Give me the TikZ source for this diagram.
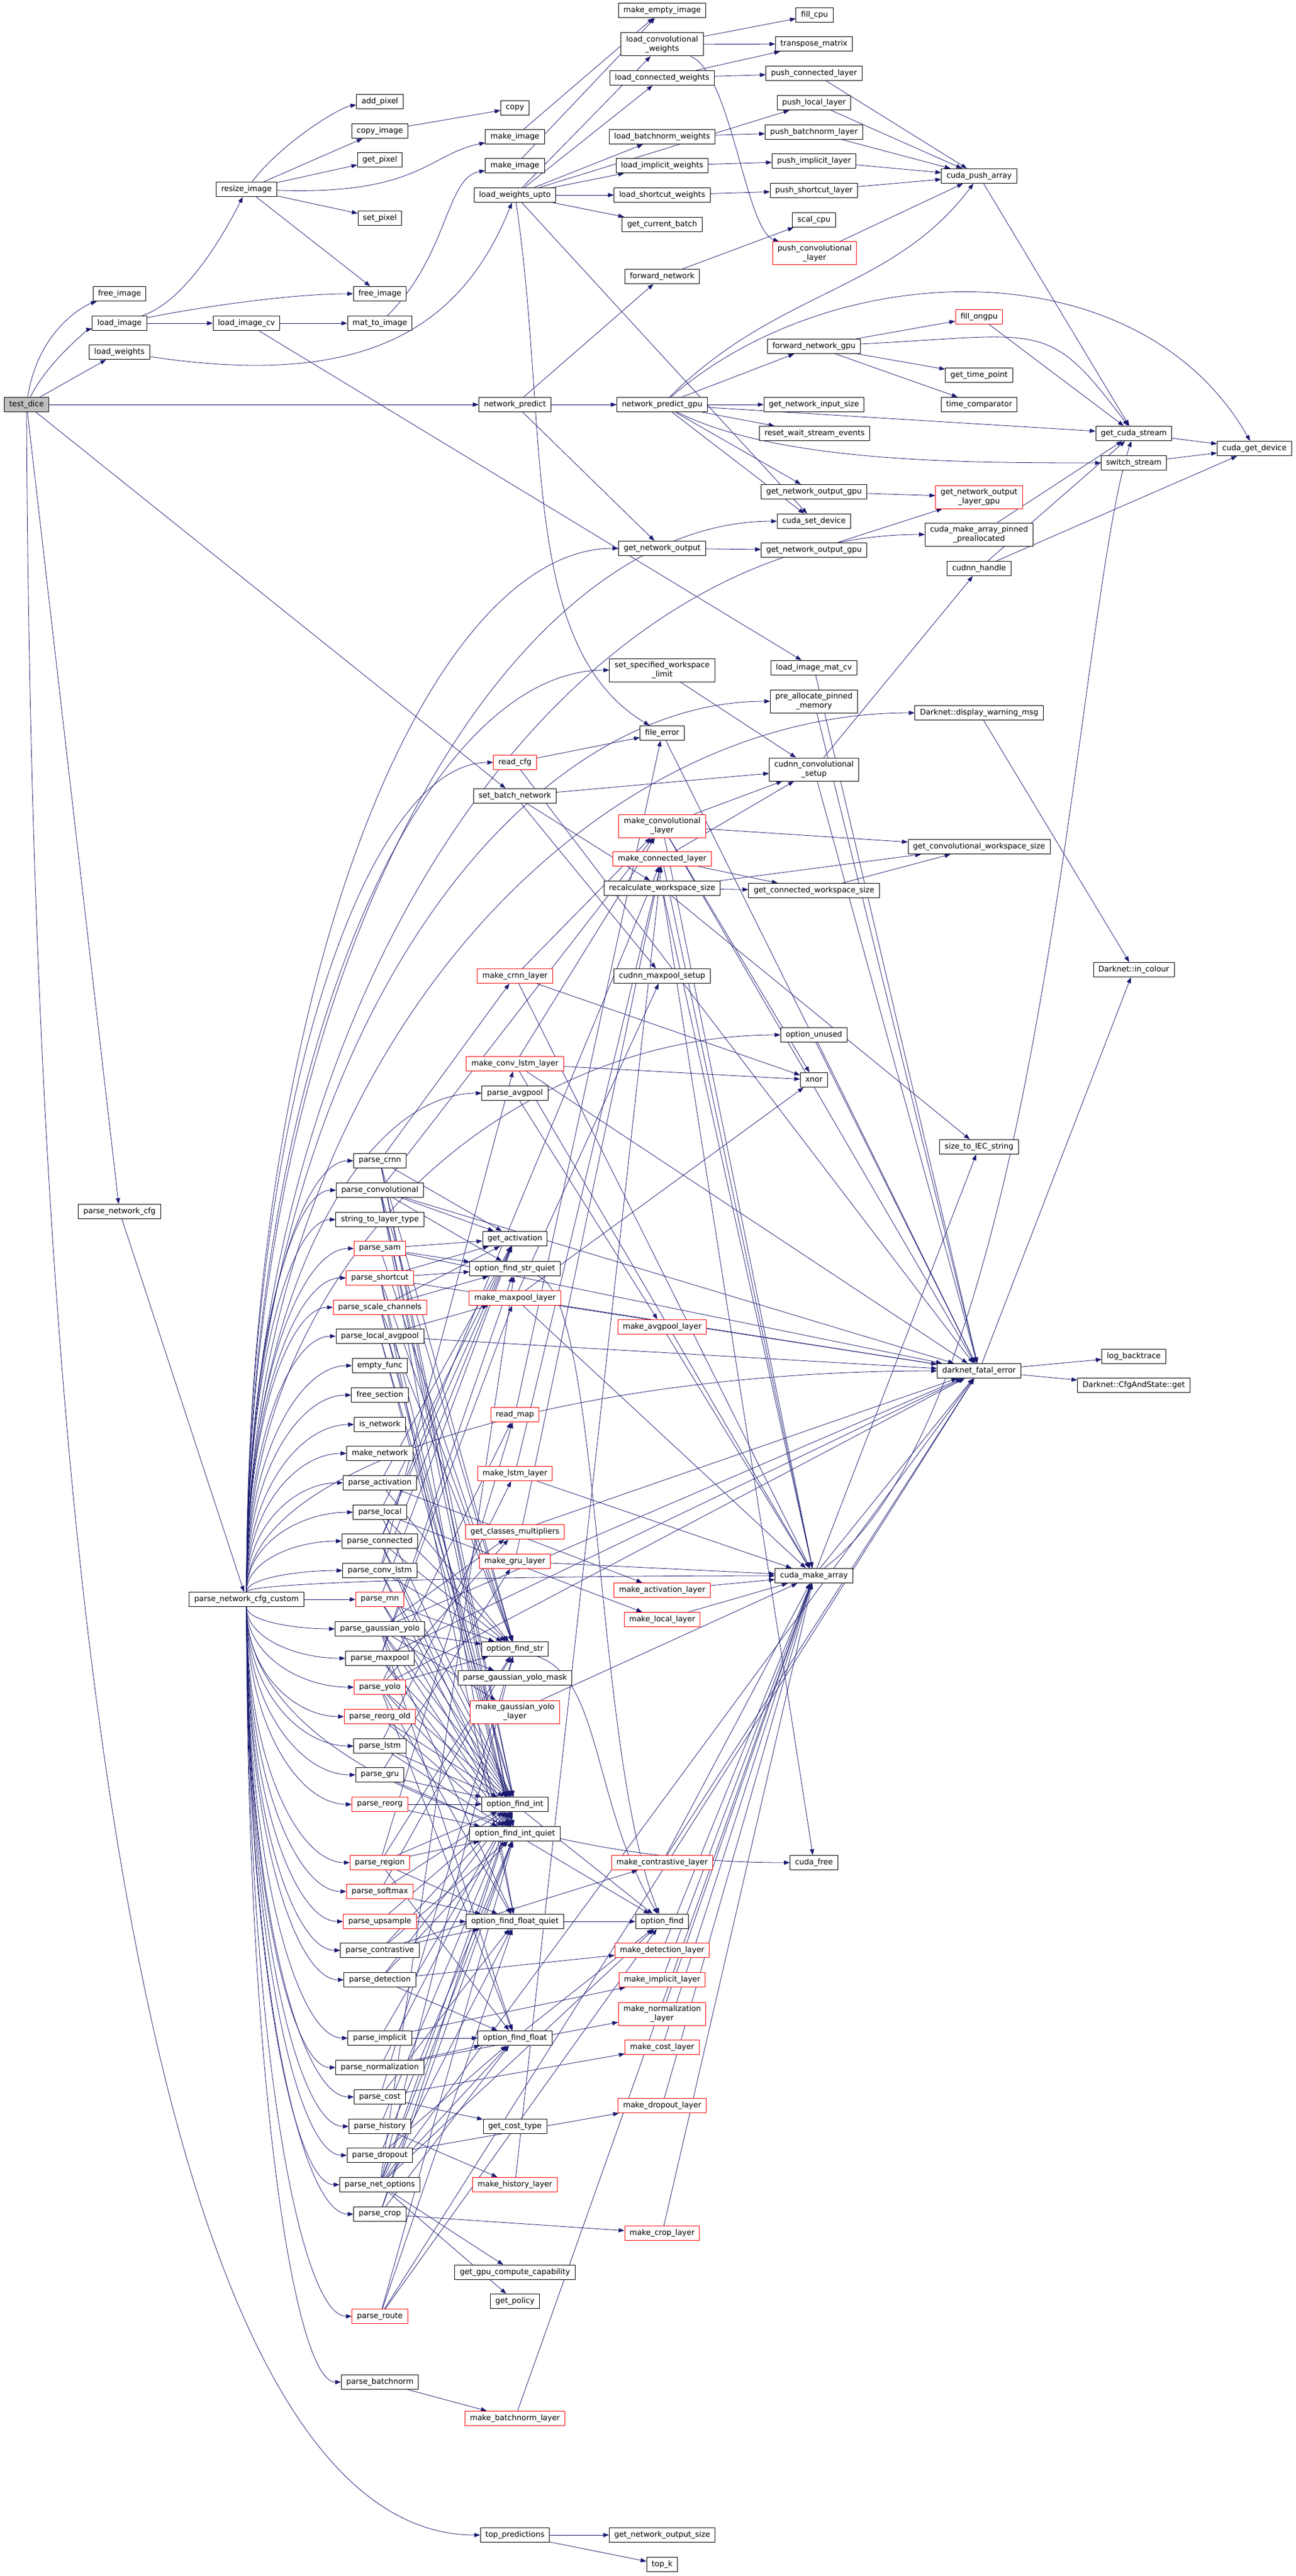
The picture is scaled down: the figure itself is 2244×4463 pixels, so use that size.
\documentclass[tikz,border=0pt]{standalone}
\usepackage{fontspec}
\setmainfont{DejaVu Sans}
\usetikzlibrary{arrows.meta,calc}
\definecolor{callblue}{HTML}{191970}
\pgfdeclarelayer{bg}
\pgfsetlayers{bg,main}

\begin{document}
\begin{tikzpicture}[x=0.75pt,y=-0.75pt,>={Triangle[length=7.5pt,width=5.5pt]},
  fnbox/.style={rectangle,draw=black,fill=white,line width=0.75pt,align=center,
    font=\fontsize{10}{11.5}\selectfont,inner xsep=6.5pt,inner ysep=1pt,minimum height=19pt},
  cutbox/.style={fnbox,draw=red},
  twoline/.style={minimum height=30pt},
  call/.style={->,draw=callblue,line width=0.6pt}]

  \useasboundingbox (0,0) rectangle (2244,4463);

  % first columns
  \node[fnbox,fill=black!25] (td) at (46,701) {test\_dice};
  \node[fnbox] (fiA) at (207,509) {free\_image};
  \node[fnbox] (li) at (207,560) {load\_image};
  \node[fnbox] (lw) at (207,610) {load\_weights};
  \node[fnbox] (pnc) at (207,2099) {parse\_network\_cfg};
  \node[fnbox] (ri) at (427,328) {resize\_image};
  \node[fnbox] (licv) at (427,560) {load\_image\_cv};
  \node[fnbox] (pncc) at (427,2771) {parse\_network\_cfg\_custom};

  % column of parse functions
  \node[fnbox] (addp) at (658,176) {add\_pixel};
  \node[fnbox] (cpi) at (658,227) {copy\_image};
  \node[fnbox] (gp) at (658,277) {get\_pixel};
  \node[fnbox] (sp) at (658,378) {set\_pixel};
  \node[fnbox] (fiB) at (658,509) {free\_image};
  \node[fnbox] (mti) at (658,560) {mat\_to\_image};
  \node[fnbox] (pcrnn) at (658,2011) {parse\_crnn};
  \node[fnbox] (pconv) at (658,2062) {parse\_convolutional};
  \node[fnbox] (s2lt) at (658,2113) {string\_to\_layer\_type};
  \node[cutbox] (psam) at (658,2163) {parse\_sam};
  \node[cutbox] (pshort) at (658,2214) {parse\_shortcut};
  \node[cutbox] (pscale) at (658,2265) {parse\_scale\_channels};
  \node[fnbox] (plavg) at (658,2315) {parse\_local\_avgpool};
  \node[fnbox] (efunc) at (658,2366) {empty\_func};
  \node[fnbox] (fsec) at (658,2417) {free\_section};
  \node[fnbox] (isnet) at (658,2468) {is\_network};
  \node[fnbox] (mknet) at (658,2518) {make\_network};
  \node[fnbox] (pact) at (658,2569) {parse\_activation};
  \node[fnbox] (ploc) at (658,2620) {parse\_local};
  \node[fnbox] (pconn) at (658,2670) {parse\_connected};
  \node[fnbox] (pclstm) at (658,2721) {parse\_conv\_lstm};
  \node[cutbox] (prnn) at (658,2771) {parse\_rnn};
  \node[fnbox] (pgy) at (658,2822) {parse\_gaussian\_yolo};
  \node[fnbox] (pmax) at (658,2873) {parse\_maxpool};
  \node[cutbox] (pyolo) at (658,2923) {parse\_yolo};
  \node[cutbox] (preo) at (658,2974) {parse\_reorg\_old};
  \node[fnbox] (plstm) at (658,3025) {parse\_lstm};
  \node[fnbox] (pgru) at (658,3075) {parse\_gru};
  \node[cutbox] (preorg) at (658,3126) {parse\_reorg};
  \node[cutbox] (preg) at (658,3227) {parse\_region};
  \node[cutbox] (psoft) at (658,3277) {parse\_softmax};
  \node[cutbox] (pups) at (658,3329) {parse\_upsample};
  \node[fnbox] (pcontr) at (658,3379) {parse\_contrastive};
  \node[fnbox] (pdet) at (658,3430) {parse\_detection};
  \node[fnbox] (pimp) at (658,3531) {parse\_implicit};
  \node[fnbox] (pnorm) at (658,3582) {parse\_normalization};
  \node[fnbox] (pcost) at (658,3633) {parse\_cost};
  \node[fnbox] (phist) at (658,3684) {parse\_history};
  \node[fnbox] (pdrop) at (658,3734) {parse\_dropout};
  \node[fnbox] (pnet) at (658,3785) {parse\_net\_options};
  \node[fnbox] (pcrop) at (658,3836) {parse\_crop};
  \node[cutbox] (prte) at (658,4013) {parse\_route};
  \node[fnbox] (pbn) at (658,4127) {parse\_batchnorm};

  % column of options and makers
  \node[fnbox] (copy) at (892,187) {copy};
  \node[fnbox] (miA) at (892,237) {make\_image};
  \node[fnbox] (miB) at (892,287) {make\_image};
  \node[fnbox] (lwu) at (892,338) {load\_weights\_upto};
  \node[fnbox] (np) at (892,701) {network\_predict};
  \node[cutbox] (rcfg) at (892,1321) {read\_cfg};
  \node[fnbox] (sbn) at (892,1379) {set\_batch\_network};
  \node[cutbox] (mcrnn) at (892,1691) {make\_crnn\_layer};
  \node[cutbox] (mclstm) at (892,1843) {make\_conv\_lstm\_layer};
  \node[fnbox] (pavg) at (892,1894) {parse\_avgpool};
  \node[fnbox] (gact) at (892,2146) {get\_activation};
  \node[fnbox] (ofsq) at (892,2198) {option\_find\_str\_quiet};
  \node[cutbox] (mmax) at (892,2249) {make\_maxpool\_layer};
  \node[cutbox] (rmap) at (892,2451) {read\_map};
  \node[cutbox] (mlstm) at (892,2553) {make\_lstm\_layer};
  \node[cutbox] (gcm) at (892,2654) {get\_classes\_multipliers};
  \node[cutbox] (mgru) at (892,2705) {make\_gru\_layer};
  \node[fnbox] (ofs) at (892,2857) {option\_find\_str};
  \node[fnbox] (pgym) at (892,2907) {parse\_gaussian\_yolo\_mask};
  \node[cutbox,twoline] (mgy) at (892,2966) {make\_gaussian\_yolo\\\_layer};
  \node[fnbox] (ofi) at (892,3126) {option\_find\_int};
  \node[fnbox] (ofiq) at (892,3177) {option\_find\_int\_quiet};
  \node[fnbox] (offq) at (892,3329) {option\_find\_float\_quiet};
  \node[fnbox] (off) at (892,3531) {option\_find\_float};
  \node[fnbox] (gct) at (892,3684) {get\_cost\_type};
  \node[cutbox] (mhist) at (892,3785) {make\_history\_layer};
  \node[fnbox] (ggcc) at (892,3937) {get\_gpu\_compute\_capability};
  \node[fnbox] (gpol) at (892,3987) {get\_policy};
  \node[cutbox] (mbn) at (892,4190) {make\_batchnorm\_layer};
  \node[fnbox] (tp) at (892,4392) {top\_predictions};

  % column of loaders and layers
  \node[fnbox] (mei) at (1147,18) {make\_empty\_image};
  \node[fnbox,twoline] (lcw) at (1147,77) {load\_convolutional\\\_weights};
  \node[fnbox] (lconw) at (1147,135) {load\_connected\_weights};
  \node[fnbox] (lbw) at (1147,237) {load\_batchnorm\_weights};
  \node[fnbox] (liw) at (1147,287) {load\_implicit\_weights};
  \node[fnbox] (lsw) at (1147,338) {load\_shortcut\_weights};
  \node[fnbox] (gcb) at (1147,389) {get\_current\_batch};
  \node[fnbox] (fwd) at (1147,479) {forward\_network};
  \node[fnbox] (npg) at (1147,701) {network\_predict\_gpu};
  \node[fnbox] (gno) at (1147,950) {get\_network\_output};
  \node[fnbox,twoline] (sswl) at (1147,1161) {set\_specified\_workspace\\\_limit};
  \node[fnbox] (ferr) at (1147,1270) {file\_error};
  \node[cutbox,twoline] (mconv) at (1147,1431) {make\_convolutional\\\_layer};
  \node[cutbox] (mconn) at (1147,1488) {make\_connected\_layer};
  \node[fnbox] (rws) at (1147,1539) {recalculate\_workspace\_size};
  \node[fnbox] (cmps) at (1147,1691) {cudnn\_maxpool\_setup};
  \node[cutbox] (mavg) at (1147,2299) {make\_avgpool\_layer};
  \node[cutbox] (mact) at (1147,2755) {make\_activation\_layer};
  \node[cutbox] (mloc) at (1147,2806) {make\_local\_layer};
  \node[cutbox] (mcontr) at (1147,3227) {make\_contrastive\_layer};
  \node[fnbox] (opf) at (1147,3329) {option\_find};
  \node[cutbox] (mdet) at (1147,3379) {make\_detection\_layer};
  \node[cutbox] (mimpl) at (1147,3430) {make\_implicit\_layer};
  \node[cutbox,twoline] (mnorm) at (1147,3489) {make\_normalization\\\_layer};
  \node[cutbox] (mcost) at (1147,3547) {make\_cost\_layer};
  \node[cutbox] (mdrop) at (1147,3648) {make\_dropout\_layer};
  \node[cutbox] (mcrop) at (1147,3869) {make\_crop\_layer};
  \node[fnbox] (gnos) at (1147,4392) {get\_network\_output\_size};
  \node[fnbox] (topk) at (1147,4443) {top\_k};

  % column of push / gpu helpers
  \node[fnbox] (fillc) at (1411,26) {fill\_cpu};
  \node[fnbox] (trm) at (1410,76) {transpose\_matrix};
  \node[fnbox] (pconnl) at (1410,127) {push\_connected\_layer};
  \node[fnbox] (plocl) at (1410,178) {push\_local\_layer};
  \node[fnbox] (pbnl) at (1410,229) {push\_batchnorm\_layer};
  \node[fnbox] (pimpl) at (1410,279) {push\_implicit\_layer};
  \node[fnbox] (pshl) at (1410,330) {push\_shortcut\_layer};
  \node[fnbox] (scal) at (1410,381) {scal\_cpu};
  \node[cutbox,twoline] (pconvl) at (1411,439) {push\_convolutional\\\_layer};
  \node[fnbox] (fng) at (1410,600) {forward\_network\_gpu};
  \node[fnbox] (gnis) at (1410,701) {get\_network\_input\_size};
  \node[fnbox] (rwse) at (1411,751) {reset\_wait\_stream\_events};
  \node[fnbox] (gnogA) at (1410,852) {get\_network\_output\_gpu};
  \node[fnbox] (csd) at (1410,903) {cuda\_set\_device};
  \node[fnbox] (gnogB) at (1410,953) {get\_network\_output\_gpu};
  \node[fnbox] (limcv) at (1410,1157) {load\_image\_mat\_cv};
  \node[fnbox,twoline] (papm) at (1410,1215) {pre\_allocate\_pinned\\\_memory};
  \node[fnbox,twoline] (ccs) at (1410,1333) {cudnn\_convolutional\\\_setup};
  \node[fnbox] (gcws) at (1410,1543) {get\_connected\_workspace\_size};
  \node[fnbox] (ounused) at (1410,1793) {option\_unused};
  \node[fnbox] (xnor) at (1410,1871) {xnor};
  \node[fnbox] (cma) at (1410,2730) {cuda\_make\_array};
  \node[fnbox] (cfree) at (1410,3227) {cuda\_free};

  % right columns
  \node[fnbox] (cpa) at (1696,305) {cuda\_push\_array};
  \node[cutbox] (fog) at (1696,549) {fill\_ongpu};
  \node[fnbox] (gtp) at (1696,650) {get\_time\_point};
  \node[fnbox] (tc) at (1696,701) {time\_comparator};
  \node[cutbox,twoline] (gnolg) at (1696,861) {get\_network\_output\\\_layer\_gpu};
  \node[fnbox,twoline] (cmapp) at (1696,926) {cuda\_make\_array\_pinned\\\_preallocated};
  \node[fnbox] (cdh) at (1696,985) {cudnn\_handle};
  \node[fnbox] (dwm) at (1696,1235) {Darknet::display\_warning\_msg};
  \node[fnbox] (gcvws) at (1696,1467) {get\_convolutional\_workspace\_size};
  \node[fnbox] (s2iec) at (1696,1987) {size\_to\_IEC\_string};
  \node[fnbox] (dfe) at (1696,2375) {darknet\_fatal\_error};
  \node[fnbox] (gcs) at (1964,751) {get\_cuda\_stream};
  \node[fnbox] (ss) at (1964,802) {switch\_stream};
  \node[fnbox] (dic) at (1964,1680) {Darknet::in\_colour};
  \node[fnbox] (lbt) at (1964,2350) {log\_backtrace};
  \node[fnbox] (cag) at (1964,2400) {Darknet::CfgAndState::get};
  \node[fnbox] (cgd) at (2173,777) {cuda\_get\_device};

  \begin{pgfonlayer}{bg}
  % curved calls
  \draw[call] (td) .. controls +(20,-130) and +(-60,20) .. (fiA);
  \draw[call] (td) .. controls +(40,-80) and +(-50,10) .. (li);
  \draw[call] (li) .. controls +(120,-40) and +(-30,60) .. (ri);
  \draw[call] (li) .. controls +(150,-30) and +(-150,0) .. (fiB);
  \draw[call] (ri) .. controls +(60,-80) and +(-70,10) .. (addp);
  \draw[call] (ri) .. controls +(300,10) and +(-150,30) .. (miA);
  \draw[call] (mti) .. controls +(120,-120) and +(-120,20) .. (miB);
  \draw[call] (lw) .. controls +(400,60) and +(-100,250) .. (lwu);
  \draw[call] (lwu) .. controls +(60,400) and +(-250,-150) .. (ferr);
  \draw[call] (lcw) .. controls +(120,50) and +(-120,-40) .. (pconvl);
  \draw[call] (npg) .. controls +(200,100) and +(-300,0) .. (ss);
  \draw[call] (npg) .. controls +(300,-260) and +(-200,-350) .. (cgd);
  \draw[call] (npg) .. controls +(200,-200) and +(-150,200) .. (cpa);
  \draw[call] (fng) .. controls +(400,-20) and +(-150,-200) .. (gcs);
  \draw[call] (ofsq) .. controls +(150,50) and +(-120,-300) .. (opf);
  \draw[call] (ofs) .. controls +(150,50) and +(-120,-200) .. (opf);
  \draw[call] (cma) .. controls +(400,-300) and +(-100,300) .. (gcs);
  \draw[call] (td.south) .. controls (60,3650) and (450,4392) .. (tp.west);

  % straight calls
  \foreach \s/\t in {td/lw,td/np,td/sbn,td/pnc,pnc/pncc,li/licv,ri/cpi,ri/gp,ri/sp,ri/fiB,
      cpi/copy,licv/mti,licv/limcv,miA/mei,miB/mei,lwu/lcw,lwu/lconw,lwu/lbw,lwu/liw,
      lwu/lsw,lwu/gcb,lwu/plocl,lwu/csd,lcw/fillc,lcw/trm,lconw/trm,lconw/pconnl,
      lbw/pbnl,liw/pimpl,lsw/pshl,pconnl/cpa,plocl/cpa,pbnl/cpa,pimpl/cpa,pshl/cpa,
      pconvl/cpa,np/npg,np/fwd,np/gno,fwd/scal,npg/fng,npg/gnis,npg/rwse,npg/gnogA,
      npg/csd,npg/gcs,fng/fog,fng/gtp,fng/tc,fog/gcs,cpa/gcs,gcs/cgd,ss/cgd,gnogA/gnolg,
      gno/gnogB,gnogB/gnolg,cmapp/gcs,cdh/cgd,cdh/gcs,tp/gnos,tp/topk}
    \draw[call] (\s) -- (\t);

  \foreach \s/\t in {sswl/ccs,sbn/ccs,sbn/rws,sbn/cmps,rcfg/ferr,rcfg/dfe,mconv/ccs,
      mconv/gcvws,mconv/cma,mconv/dfe,mconv/xnor,mconn/ccs,mconn/gcws,mconn/cma,
      rws/gcws,rws/gcvws,rws/s2iec,rws/cma,rws/cfree,gcws/gcvws,ccs/cdh,ccs/dfe,
      dwm/dic,limcv/dfe,papm/dfe,ferr/dfe,ounused/dfe,mcrnn/mconv,mcrnn/xnor,mcrnn/cma,
      mclstm/mconv,mclstm/xnor,mclstm/cma,mclstm/dfe,pavg/mavg,mavg/cma,mmax/cma,
      mmax/cmps,mmax/dfe,mmax/xnor,dfe/lbt,dfe/cag,dfe/dic,cma/dfe,cma/s2iec,
      mlstm/mconn,mlstm/cma,mgru/mconn,mgru/cma,gcm/dfe,rmap/ferr,mact/cma,mloc/cma,
      mgy/cma,mcontr/cma,mcontr/dfe,mdet/cma,mimpl/cma,mnorm/cma,mcost/cma,mdrop/cma,
      mcrop/cma,mhist/mconn,mbn/cma,pgy/pgym,pgy/mgy,ofi/opf,ofiq/opf,offq/opf,off/opf}
    \draw[call] (\s) -- (\t);

  % parse functions to their helpers
  \foreach \s/\t in {pcrnn/ofi,pcrnn/ofs,pcrnn/gact,pcrnn/ofiq,pcrnn/mcrnn,
      pconv/ofi,pconv/ofiq,pconv/ofs,pconv/gact,pconv/offq,pconv/ofsq,pconv/mconv,pconv/dfe,
      psam/ofs,psam/gact,psam/ofsq,psam/dfe,
      pshort/ofs,pshort/gact,pshort/ofsq,pshort/ofiq,pshort/offq,pshort/dfe,
      pscale/ofi,pscale/gact,pscale/ofs,pscale/ofiq,pscale/ofsq,
      plavg/ofi,plavg/ofiq,plavg/mmax,plavg/dfe,
      pact/ofs,pact/gact,pact/mact,
      ploc/ofi,ploc/ofs,ploc/gact,ploc/mloc,
      pconn/ofi,pconn/ofs,pconn/gact,pconn/ofiq,pconn/mconn,
      pclstm/ofi,pclstm/ofiq,pclstm/ofs,pclstm/gact,pclstm/mclstm,
      prnn/ofi,prnn/ofs,prnn/gact,prnn/ofiq,
      pgy/ofi,pgy/ofiq,pgy/ofs,pgy/off,pgy/offq,pgy/gcm,pgy/dfe,
      pmax/ofi,pmax/ofiq,pmax/ofsq,pmax/mmax,pmax/dfe,
      pyolo/ofi,pyolo/ofiq,pyolo/ofs,pyolo/off,pyolo/offq,pyolo/gcm,pyolo/rmap,pyolo/dfe,
      preo/ofi,preo/ofiq,plstm/ofi,plstm/ofiq,plstm/mlstm,pgru/ofi,pgru/ofiq,pgru/mgru,
      preorg/ofi,preorg/ofiq,
      preg/ofi,preg/off,preg/offq,preg/ofs,preg/ofiq,preg/rmap,
      psoft/ofi,psoft/offq,psoft/ofs,pups/ofi,pups/offq,
      pcontr/ofi,pcontr/offq,pcontr/ofiq,pcontr/mcontr,
      pdet/ofi,pdet/off,pdet/ofiq,pdet/mdet,pimp/off,pimp/ofi,pimp/mimpl,
      pnorm/off,pnorm/ofi,pnorm/mnorm,pcost/ofs,pcost/gct,pcost/offq,pcost/mcost,
      phist/ofi,phist/mhist,pdrop/off,pdrop/ofiq,pdrop/mdrop,
      pnet/ofi,pnet/ofiq,pnet/off,pnet/offq,pnet/ofs,pnet/opf,pnet/gpol,pnet/ggcc,pnet/dfe,pnet/ofsq,
      pcrop/ofi,pcrop/off,pcrop/ofiq,pcrop/mcrop,
      prte/opf,prte/ofiq,prte/offq,prte/dfe,pbn/mbn}
    \draw[call] (\s) -- (\t);

  % fan out of parse_network_cfg_custom
  \foreach \t in {pcrnn,pconv,s2lt,psam,pshort,pscale,plavg,efunc,fsec,isnet,mknet,pact,
      ploc,pconn,pclstm,pavg,rcfg,sswl,papm,gno,csd,cmapp,ounused,dwm,dfe,cma}
    \draw[call] (pncc.north) .. controls ($(pncc.north)!.6!(pncc.north |- \t.west)$)
      and ($(\t.west)!.5!(pncc.north |- \t.west)$) .. (\t.west);
  \foreach \t in {pgy,pmax,pyolo,preo,plstm,pgru,preorg,preg,psoft,pups,pcontr,pdet,pimp,
      pnorm,pcost,phist,pdrop,pnet,pcrop,prte,pbn,cfree}
    \draw[call] (pncc.south) .. controls ($(pncc.south)!.6!(pncc.south |- \t.west)$)
      and ($(\t.west)!.5!(pncc.south |- \t.west)$) .. (\t.west);
  \draw[call] (pncc) -- (prnn);
  \end{pgfonlayer}
\end{tikzpicture}
\end{document}
